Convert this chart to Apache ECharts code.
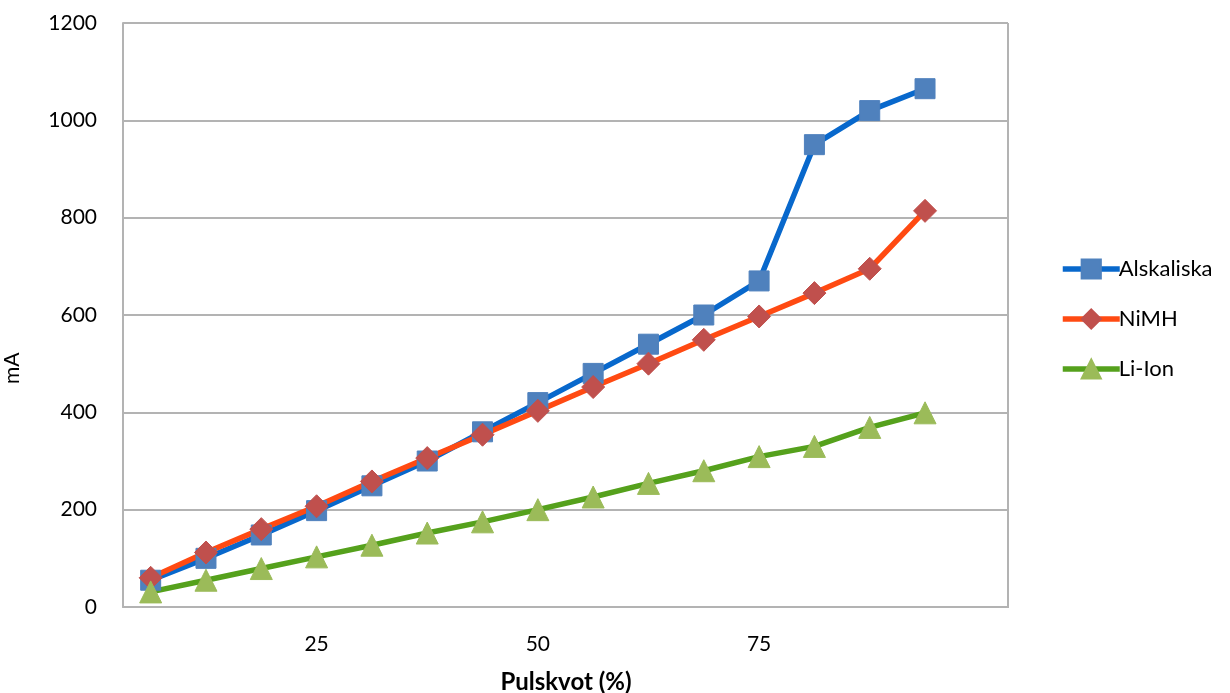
<!DOCTYPE html>
<html>
<head>
<meta charset="utf-8">
<script src="https://cdn.jsdelivr.net/npm/echarts@6/dist/echarts.min.js"></script>
<style>
  html, body { margin: 0; padding: 0; background: #ffffff; overflow: hidden; }
  #chart { width: 1230px; height: 693px; }
</style>
</head>
<body>
<div id="chart"></div>
<script>
// Pulse ratio categories (%); only every fourth one carries a label
const categories = ['6.25', '12.5', '18.75', '25', '31.25', '37.5', '43.75', '50',
                    '56.25', '62.5', '68.75', '75', '81.25', '87.5', '93.75', '100'];
const tickLabels = ['', '', '', '25', '', '', '', '50', '', '', '', '75', '', '', '', ''];

// Current draw (mA) per battery type
const alkaline = [55, 100, 148, 198, 249, 300, 360, 420, 480, 540, 600, 670, 950, 1020, 1065];
const nimh     = [60, 112, 160, 207, 258, 306, 354, 403, 452, 500, 549, 597, 645, 695, 814];
const liion    = [31, 55, 79, 103, 127, 152, 175, 200, 226, 254, 280, 309, 330, 369, 399];

const yTicks = { min: 0, max: 1200, interval: 200 };

const FONT = 'Lato, "Open Sans", sans-serif';

const chart = echarts.init(document.getElementById('chart'));

function lineSeries(name, data, lineColor, markColor, symbol, size) {
  return {
    name: name,
    type: 'line',
    data: data,
    symbol: symbol,
    symbolSize: size,
    showAllSymbol: true,
    lineStyle: { color: lineColor, width: 5.5 },
    itemStyle: { color: markColor, borderColor: markColor, borderWidth: 1, opacity: 1 },
    emphasis: { disabled: true },
    animation: false
  };
}

chart.setOption({
  backgroundColor: '#ffffff',
  grid: { left: 123, width: 885, top: 23, height: 584, containLabel: false, outerBoundsMode: 'none' },
  xAxis: {
    type: 'category',
    data: categories,
    boundaryGap: true,
    axisLine: { show: true, lineStyle: { color: '#b3b3b3', width: 2 } },
    axisTick: { show: false },
    axisLabel: {
      interval: 0,
      margin: 27,
      fontFamily: FONT,
      fontSize: 21,
      color: '#000',
      formatter: function (v, i) { return tickLabels[i]; }
    },
    splitLine: { show: false }
  },
  yAxis: {
    type: 'value',
    min: yTicks.min,
    max: yTicks.max,
    interval: yTicks.interval,
    axisLine: { show: true, lineStyle: { color: '#b3b3b3', width: 2 } },
    axisTick: { show: false },
    axisLabel: {
      margin: 26, fontFamily: FONT, fontSize: 21, color: '#000',
      formatter: function (v) { return String(v); }
    },
    splitLine: { show: true, lineStyle: { color: '#b3b3b3', width: 2 } }
  },
  legend: {
    orient: 'vertical',
    left: 1055,
    top: 253,
    itemWidth: 57,
    itemHeight: 24,
    itemGap: 28,
    lineStyle: { width: 5.5 },
    textStyle: { fontFamily: FONT, fontSize: 22, color: '#000', padding: [0, 0, 0, -6] },
    data: ['Alskaliska', 'NiMH', 'Li-Ion']
  },
  graphic: [
    // right edge of the plot frame
    {
      type: 'line',
      shape: { x1: 1008, y1: 23, x2: 1008, y2: 608 },
      style: { stroke: '#b3b3b3', lineWidth: 2 }
    },
    {
      type: 'text',
      x: 2,
      y: 384,
      rotation: Math.PI / 2,
      style: { text: 'mA', fontFamily: FONT, fontSize: 21, fill: '#000' }
    },
    {
      type: 'text',
      x: 566,
      y: 682,
      style: {
        text: 'Pulskvot (%)', fontFamily: FONT, fontSize: 24, fontWeight: 'bold',
        fill: '#000', align: 'center', verticalAlign: 'middle'
      }
    }
  ],
  series: [
    lineSeries('Alskaliska', alkaline, '#0868cc', '#4f81bd', 'rect', 20),
    lineSeries('NiMH', nimh, '#ff4a12', '#c0504d', 'diamond', 23),
    lineSeries('Li-Ion', liion, '#55a11c', '#9bbb59', 'triangle', 22)
  ]
});
</script>
</body>
</html>
